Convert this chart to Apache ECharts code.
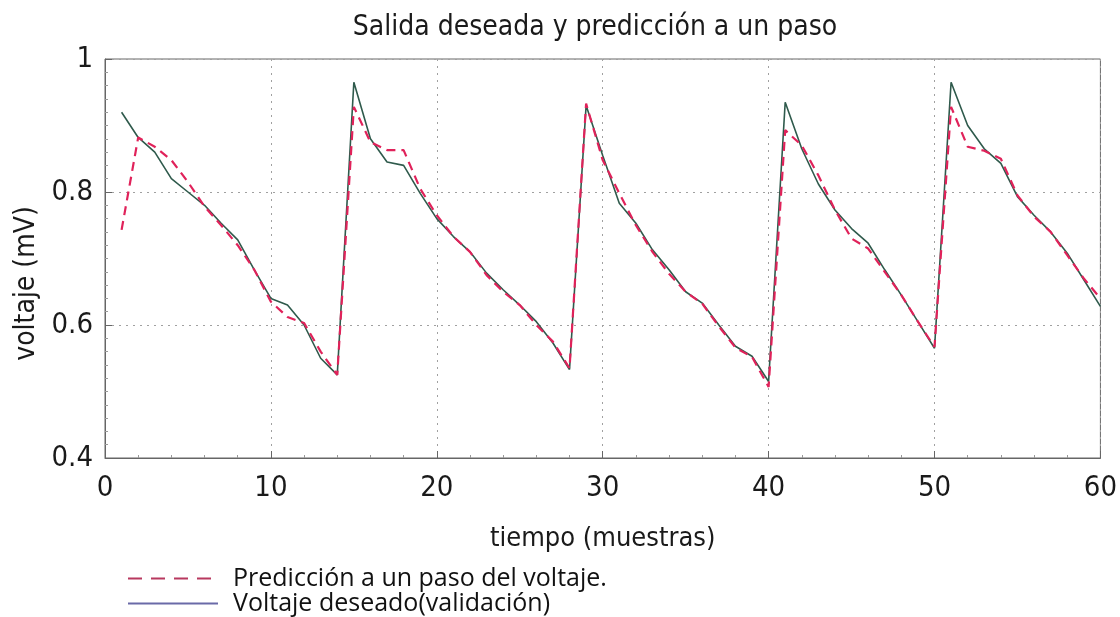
<!DOCTYPE html>
<html>
<head>
<meta charset="utf-8">
<script src="https://cdn.jsdelivr.net/npm/echarts@6/dist/echarts.min.js"></script>
<style>
  html, body { margin: 0; padding: 0; background: #ffffff; }
  #chart { width: 1120px; height: 617px; }
</style>
</head>
<body>
<div id="chart"></div>
<script>
// Muestras de tiempo 1..60
const muestras = [
  1, 2, 3, 4, 5, 6, 7, 8, 9, 10,
  11, 12, 13, 14, 15, 16, 17, 18, 19, 20,
  21, 22, 23, 24, 25, 26, 27, 28, 29, 30,
  31, 32, 33, 34, 35, 36, 37, 38, 39, 40,
  41, 42, 43, 44, 45, 46, 47, 48, 49, 50,
  51, 52, 53, 54, 55, 56, 57, 58, 59, 60
];

// Voltaje deseado (validación)
const voltajeDeseado = [
  0.920, 0.882, 0.860, 0.820, 0.800, 0.780, 0.753, 0.728, 0.683, 0.640,
  0.630, 0.600, 0.550, 0.525, 0.965, 0.880, 0.845, 0.840, 0.798, 0.760,
  0.733, 0.710, 0.678, 0.653, 0.630, 0.605, 0.573, 0.533, 0.930, 0.855,
  0.783, 0.753, 0.713, 0.683, 0.650, 0.633, 0.600, 0.568, 0.553, 0.515,
  0.935, 0.865, 0.812, 0.773, 0.745, 0.723, 0.683, 0.645, 0.605, 0.565,
  0.965, 0.900, 0.865, 0.843, 0.793, 0.765, 0.740, 0.708, 0.668, 0.628
];

// Predicción a un paso del voltaje
const prediccion = [
  0.743, 0.882, 0.868, 0.848, 0.815, 0.778, 0.750, 0.720, 0.683, 0.635,
  0.612, 0.603, 0.560, 0.525, 0.928, 0.875, 0.863, 0.863, 0.805, 0.765,
  0.733, 0.710, 0.675, 0.650, 0.630, 0.600, 0.575, 0.535, 0.933, 0.848,
  0.798, 0.750, 0.710, 0.677, 0.650, 0.632, 0.598, 0.566, 0.552, 0.507,
  0.893, 0.870, 0.825, 0.773, 0.730, 0.715, 0.680, 0.645, 0.605, 0.567,
  0.928, 0.868, 0.862, 0.850, 0.795, 0.763, 0.740, 0.705, 0.670, 0.640
];

const nombrePrediccion = 'Predicción a un paso del voltaje.';
const nombreDeseado = 'Voltaje deseado(validación)';

const pares = (xs, ys) => xs.map((x, i) => [x, ys[i]]);

const narrow = "'Liberation Sans Narrow', 'DejaVu Sans Condensed', 'Liberation Sans', sans-serif";
const chart = echarts.init(document.getElementById('chart'), null, { renderer: 'canvas' });

const gridLine = { show: true, lineStyle: { color: '#a0a0a0', type: [2, 5], width: 1 } };

chart.setOption({
  backgroundColor: '#ffffff',
  animation: false,
  title: {
    text: 'Salida deseada y predicción a un paso',
    left: 590,
    top: 9,
    textAlign: 'center',
    textStyle: { fontFamily: narrow, fontSize: 28, fontWeight: 'normal', color: '#1a1a1a' }
  },
  grid: {
    left: 105, right: 17, top: 59, bottom: 159,
    show: true, borderColor: '#666666', borderWidth: 1, backgroundColor: 'transparent'
  },
  legend: {
    orient: 'vertical',
    left: 127,
    top: 566,
    height: 60,
    padding: 0,
    itemWidth: 90,
    itemHeight: 14,
    itemGap: 0,
    itemStyle: { opacity: 0 },
    textStyle: { fontFamily: "'Open Sans', 'Liberation Sans', sans-serif", fontSize: 25, color: '#111111', padding: [0, 0, 0, 10] },
    data: [
      { name: nombrePrediccion, lineStyle: { color: '#b8385f', type: [14, 9], width: 2 } },
      { name: nombreDeseado, lineStyle: { color: '#6a6aa8', type: 'solid', width: 2 } }
    ]
  },
  xAxis: {
    type: 'value',
    min: 0, max: 60, interval: 10,
    name: 'tiempo (muestras)',
    nameLocation: 'middle',
    nameGap: 67,
    nameTextStyle: { fontFamily: narrow, fontSize: 27, color: '#1a1a1a' },
    axisLine: { show: true, onZero: false, lineStyle: { color: '#666666' } },
    axisTick: { show: true, inside: true, length: 7, lineStyle: { color: '#666666' } },
    minorTick: { show: true, splitNumber: 5, length: 3, lineStyle: { color: '#999999' } },
    axisLabel: { margin: 16, fontFamily: narrow, fontSize: 29, color: '#1a1a1a' },
    splitLine: gridLine
  },
  yAxis: {
    type: 'value',
    min: 0.4, max: 1, interval: 0.2,
    name: 'voltaje (mV)',
    nameLocation: 'middle',
    nameGap: 62,
    nameTextStyle: { fontFamily: narrow, fontSize: 28, color: '#1a1a1a', padding: [0, 50, 0, 0] },
    axisLine: { show: true, onZero: false, lineStyle: { color: '#666666' } },
    axisTick: { show: true, inside: true, length: 7, lineStyle: { color: '#666666' } },
    minorTick: { show: true, splitNumber: 10, length: 3, lineStyle: { color: '#999999' } },
    axisLabel: {
      margin: 12, fontFamily: narrow, fontSize: 29, color: '#1a1a1a',
      formatter: v => String(Math.round(v * 10) / 10)
    },
    splitLine: gridLine
  },
  series: [
    {
      name: nombreDeseado,
      type: 'line',
      data: pares(muestras, voltajeDeseado),
      symbol: 'none',
      z: 2,
      lineStyle: { color: '#2f5a4c', width: 1.6 },
      itemStyle: { color: '#2f5a4c' }
    },
    {
      name: nombrePrediccion,
      type: 'line',
      data: pares(muestras, prediccion),
      symbol: 'none',
      z: 3,
      lineStyle: { color: '#e0225a', width: 2.2, type: [9, 6] },
      itemStyle: { color: '#e0225a' }
    }
  ]
});
</script>
</body>
</html>
